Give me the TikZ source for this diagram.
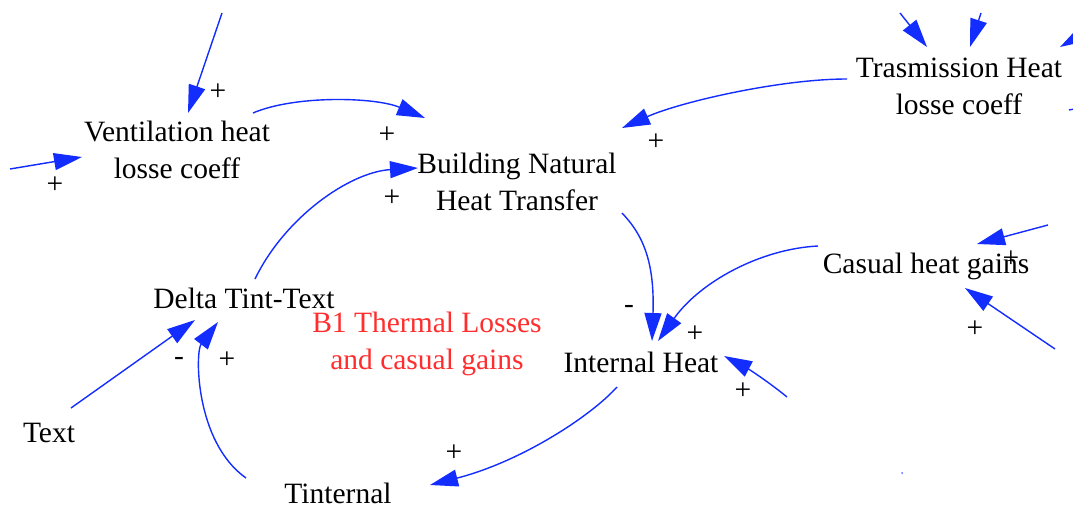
\documentclass[tikz,border=0pt]{standalone}
\usepackage{fontspec}
\setmainfont{Liberation Serif}
\usetikzlibrary{arrows.meta}
\definecolor{linkblue}{RGB}{20,45,255}
\definecolor{looptext}{RGB}{255,45,45}
\begin{document}
\begin{tikzpicture}[x=1pt,y=1pt,
  var/.style={align=center, inner sep=0pt, font=\fontsize{29.5}{37}\selectfont},
  sign/.style={inner sep=0pt, font=\fontsize{29.5}{37}\selectfont},
  link/.style={draw=linkblue, line width=1.4pt, -{Triangle[length=28pt,width=17pt]}},
  stub/.style={draw=linkblue, line width=1.4pt},
]
\useasboundingbox (0,0) rectangle (1073,507);
\clip (0,0) rectangle (1073,507);
\fill[white] (0,0) rectangle (1073,507);

% variables
\node[var] (vent)  at (177,357) {Ventilation heat\\losse coeff};
\node[var] (build) at (517,325) {Building Natural\\Heat Transfer};
\node[var] (trans) at (959,421) {Trasmission Heat\\losse coeff};
\node[var, anchor=base] (casual) at (926,234) {Casual heat gains};
\node[var, anchor=base] (delta)  at (244,199) {Delta Tint-Text};
\node[var, anchor=base] (internal) at (641,135) {Internal Heat};
\node[var, anchor=base] (text) at (49,65) {Text};
\node[var, anchor=base] (tint) at (338,4) {Tinternal};
\node[var, text=looptext] (loop) at (427,163) {B1 Thermal Losses\\and casual gains};

% free ends of incoming links
\coordinate (inV1) at (222,494);
\coordinate (inV2) at (10,338);
\coordinate (inI)  at (787,110);
\coordinate (inT1) at (900,494);
\coordinate (inT2) at (981,494);
\coordinate (inT3) at (1095,480);
\coordinate (outT) at (1085,400);
\coordinate (inC1) at (1048,282);
\coordinate (inC2) at (1055,158);

% links
\draw[link] (inV1) -- ([shift={(11,37)}]vent.center);
\draw[link] (inV2) -- ([shift={(-95,-7)}]vent.center);
\draw[link] ([shift={(76,37)}]vent.center) .. controls (295,412) and (375,410) .. ([shift={(-92,64)}]build.center);
\draw[link] ([shift={(11,29)}]delta.base) .. controls (285,290) and (350,335) .. ([shift={(-99,14)}]build.center);
\draw[link] ([shift={(-112,7)}]trans.center) .. controls (780,428) and (680,405) .. ([shift={(105,54)}]build.center);
\draw[link] ([shift={(105,-31)}]build.center) .. controls (640,275) and (655,250) .. ([shift={(11,31)}]internal.base);
\draw[link] ([shift={(-108,27)}]casual.base) .. controls (760,258) and (700,225) .. ([shift={(17,31)}]internal.base);
\draw[link] (inI) .. controls (765,128) and (745,140) .. ([shift={(83,16)}]internal.base);
\draw[link] ([shift={(-24,-15)}]internal.base) .. controls (590,90) and (520,45) .. ([shift={(92,18)}]tint.base);
\draw[link] ([shift={(-92,25)}]tint.base) .. controls (195,65) and (195,155) .. ([shift={(-26,-14)}]delta.base);
\draw[link] ([shift={(22,34)}]text.base) -- ([shift={(-49,-12)}]delta.base);
\draw[link] (inT1) -- ([shift={(-32,39)}]trans.center);
\draw[link] (inT2) -- ([shift={(11,39)}]trans.center);
\draw[link] (inT3) -- ([shift={(101,39)}]trans.center);
\draw[stub] ([shift={(110,-24)}]trans.center) -- (outT);
\draw[link] (inC1) -- ([shift={(51,29)}]casual.base);
\draw[link] (inC2) -- ([shift={(39,-15)}]casual.base);
\fill[linkblue!70] (902,34) circle (1);

% polarity signs
\node[sign] (s1)  at (218,415) {+};
\node[sign] (s2)  at (55,322)  {+};
\node[sign] (s3)  at (387,372) {+};
\node[sign] (s4)  at (392,309) {+};
\node[sign] (s5)  at (656,365) {+};
\node[sign] (s6)  at (629,198) {-};
\node[sign] (s7)  at (695,173) {+};
\node[sign] (s8)  at (743,116) {+};
\node[sign] (s9)  at (454,54)  {+};
\node[sign] (s10) at (227,147) {+};
\node[sign] (s11) at (179,146) {-};
\node[sign] (s12) at (1011,248) {+};
\node[sign] (s13) at (975,178) {+};
\end{tikzpicture}
\end{document}
